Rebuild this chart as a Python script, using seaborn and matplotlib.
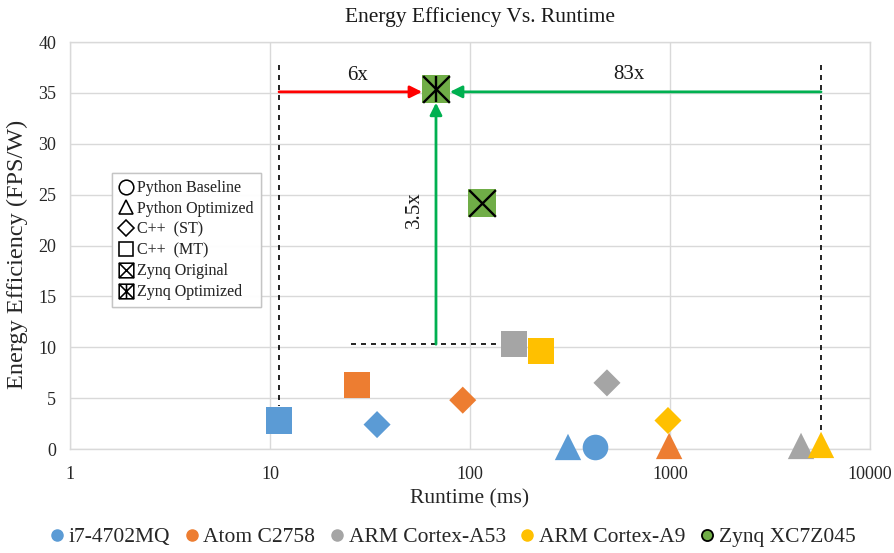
import numpy as np
import pandas as pd
import matplotlib
matplotlib.use("Agg")
import matplotlib.pyplot as plt
from matplotlib.path import Path
from matplotlib.lines import Line2D
import seaborn as sns

# ---- data -------------------------------------------------------------
processors = ["i7-4702MQ", "Atom C2758", "ARM Cortex-A53", "ARM Cortex-A9"]
colors = ["#5B9BD5", "#ED7D31", "#A5A5A5", "#FFC000"]

# runtime (ms) / energy efficiency (FPS/W) per processor, per implementation
py_base_rt = [422, np.nan, np.nan, np.nan]
py_base_ee = [0.2, np.nan, np.nan, np.nan]
py_opt_rt = [309, 990, 4520, 5690]
py_opt_ee = [0.2, 0.3, 0.3, 0.4]
cpp_st_rt = [34.3, 92, 484, 977]
cpp_st_ee = [2.4, 4.8, 6.5, 2.8]
cpp_mt_rt = [11.1, 27.2, 166, 226]
cpp_mt_ee = [2.8, 6.3, 10.3, 9.6]

zynq_label = "Zynq XC7Z045"
zynq_color = "#70AD47"
zynq_orig_rt, zynq_orig_ee = 115, 24.2
zynq_opt_rt, zynq_opt_ee = 67.6, 35.4

impl_names = ["Python Baseline", "Python Optimized", "C++  (ST)", "C++  (MT)",
              "Zynq Original", "Zynq Optimized"]

rows = []
for impl, rts, ees in [("Python Baseline", py_base_rt, py_base_ee),
                       ("Python Optimized", py_opt_rt, py_opt_ee),
                       ("C++  (ST)", cpp_st_rt, cpp_st_ee),
                       ("C++  (MT)", cpp_mt_rt, cpp_mt_ee)]:
    for p, r, e in zip(processors, rts, ees):
        if not np.isnan(r):
            rows.append({"processor": p, "impl": impl, "runtime": r, "eff": e})
df = pd.DataFrame(rows)

# ---- style ------------------------------------------------------------
sns.set_theme(style="white")
serif = ["Liberation Serif", "DejaVu Serif"]
plt.rcParams["font.family"] = serif

fig = plt.figure(figsize=(8.95, 5.53), dpi=100)
ax = fig.add_axes([70 / 895, 1 - 449 / 553, 800 / 895, 407 / 553])

palette = dict(zip(processors, colors))
marker_spec = {
    "Python Baseline": ("o", 340),
    "Python Optimized": ("^", 360),
    "C++  (ST)": ("D", 190),
    "C++  (MT)": ("s", 360),
}
for impl, (mk, sz) in marker_spec.items():
    sub = df[df["impl"] == impl]
    sns.scatterplot(data=sub, x="runtime", y="eff", hue="processor",
                    palette=palette, marker=mk, s=sz, linewidth=0,
                    legend=False, ax=ax, zorder=3, clip_on=False)

# Zynq points: green square with cross (+ vertical bar when optimized)
zx = [zynq_orig_rt, zynq_opt_rt]
zy = [zynq_orig_ee, zynq_opt_ee]
sns.scatterplot(x=zx, y=zy, marker="s", s=380, color=zynq_color,
                linewidth=0, legend=False, ax=ax, zorder=4)
ax.scatter(zx, zy, marker="x", s=370, color="black", linewidths=1.7, zorder=5)
ax.scatter([zynq_opt_rt], [zynq_opt_ee], marker="|", s=370, color="black",
           linewidths=1.7, zorder=5)

ax.set_xscale("log")
ax.set_xlim(1, 10000)
ax.set_ylim(0, 40)
ax.set_yticks(np.arange(0, 41, 5))
ax.set_xticks([1, 10, 100, 1000, 10000])
ax.set_xticklabels(["1", "10", "100", "1000", "10000"])
ax.minorticks_off()
ax.grid(True, which="major", color="#D9D9D9", linewidth=1.0)
ax.set_axisbelow(True)
for s in ax.spines.values():
    s.set_color("#D9D9D9")
    s.set_linewidth(1.0)
ax.tick_params(axis="both", length=0, labelsize=13, colors="#262626")
ax.tick_params(axis="x", pad=12)
ax.tick_params(axis="y", pad=10)
ax.set_xlabel("Runtime (ms)", fontsize=15.5, labelpad=5, color="#262626")
ax.set_ylabel("Energy Efficiency (FPS/W)", fontsize=17.5, color="#262626")
ax.yaxis.set_label_coords(-0.0525, 0.478)
fig.text(480 / 895, 1 - 17 / 553, "Energy Efficiency Vs. Runtime", ha="center",
         va="center", fontsize=15.5, color="#1a1a1a", family=serif)

# ---- speed-up annotations ---------------------------------------------
i7_mt_rt, i7_mt_ee = cpp_mt_rt[0], cpp_mt_ee[0]
a9_py_rt, a9_py_ee = py_opt_rt[3], py_opt_ee[3]
a53_mt_rt, a53_mt_ee = cpp_mt_rt[2], cpp_mt_ee[2]
arrow_y = 35.1
dash_top = 37.7

ax.plot([i7_mt_rt, i7_mt_rt], [dash_top, i7_mt_ee + 1.4], ls=(0, (3, 3)),
        color="black", lw=1.2, zorder=2)
ax.plot([a9_py_rt, a9_py_rt], [dash_top, a9_py_ee + 1.2], ls=(0, (3, 3)),
        color="black", lw=1.2, zorder=2)
ax.plot([25.4, a53_mt_rt * 0.84], [a53_mt_ee, a53_mt_ee], ls=(0, (3, 3)),
        color="black", lw=1.2, zorder=2)

ax.annotate("", xy=(zynq_opt_rt, arrow_y), xytext=(i7_mt_rt, arrow_y),
            arrowprops=dict(arrowstyle="-|>", color="#FF0000", lw=2,
                            mutation_scale=18, shrinkA=0, shrinkB=10), zorder=3)
ax.annotate("", xy=(zynq_opt_rt, arrow_y), xytext=(a9_py_rt, arrow_y),
            arrowprops=dict(arrowstyle="-|>", color="#00B050", lw=2,
                            mutation_scale=18, shrinkA=0, shrinkB=10), zorder=3)
ax.annotate("", xy=(zynq_opt_rt, zynq_opt_ee), xytext=(zynq_opt_rt, a53_mt_ee),
            arrowprops=dict(arrowstyle="-|>", color="#00B050", lw=2,
                            mutation_scale=18, shrinkA=0, shrinkB=10), zorder=3)

ax.text(27.3, 35.8, "6x", ha="center", va="bottom", fontsize=15, color="#1a1a1a")
ax.text(620, 35.9, "83x", ha="center", va="bottom", fontsize=15, color="#1a1a1a")
ax.text(53, 23.5, "3.5x", ha="center", va="center", rotation=90,
        fontsize=15, color="#1a1a1a")

# ---- implementation (shape) legend -------------------------------------
def boxed_x(vertical=False):
    verts = [(-1, -1), (1, -1), (1, 1), (-1, 1), (-1, -1),
             (-1, -1), (1, 1), (-1, 1), (1, -1)]
    codes = [Path.MOVETO, Path.LINETO, Path.LINETO, Path.LINETO, Path.CLOSEPOLY,
             Path.MOVETO, Path.LINETO, Path.MOVETO, Path.LINETO]
    if vertical:
        verts += [(0, -1), (0, 1)]
        codes += [Path.MOVETO, Path.LINETO]
    return Path(verts, codes)

shape_markers = ["o", "^", "D", "s", boxed_x(), boxed_x(True)]
shape_sizes = [10.5, 10.5, 8.5, 10.5, 10.5, 10.5]
shape_handles = [Line2D([], [], ls="none", marker=m, markersize=sz,
                        markerfacecolor="none", markeredgecolor="black",
                        markeredgewidth=1.1)
                 for m, sz in zip(shape_markers, shape_sizes)]
leg1 = ax.legend(shape_handles, impl_names, loc="upper left",
                 bbox_to_anchor=(0.052, 0.678), borderaxespad=0,
                 frameon=True, fancybox=False, edgecolor="#BFBFBF",
                 handlelength=0.9, handletextpad=0.25,
                 labelspacing=0.3, borderpad=0.45,
                 prop={"family": serif, "size": 11.5})
leg1.get_frame().set_linewidth(1.0)
ax.add_artist(leg1)

# ---- processor (colour) legend ----------------------------------------
proc_handles = [Line2D([], [], ls="none", marker="o", markersize=8,
                       markerfacecolor=c, markeredgecolor=c)
                for c in colors]
proc_handles.append(Line2D([], [], ls="none", marker="o", markersize=8,
                           markerfacecolor=zynq_color, markeredgecolor="black",
                           markeredgewidth=1.3))
fig.legend(proc_handles, processors + [zynq_label], loc="center",
           bbox_to_anchor=(453 / 895, 1 - 537 / 553), ncol=5, frameon=False,
           handlelength=0.6, handletextpad=0.25, columnspacing=0.7,
           prop={"family": serif, "size": 15.5})

fig.savefig("out.png", dpi=100)
